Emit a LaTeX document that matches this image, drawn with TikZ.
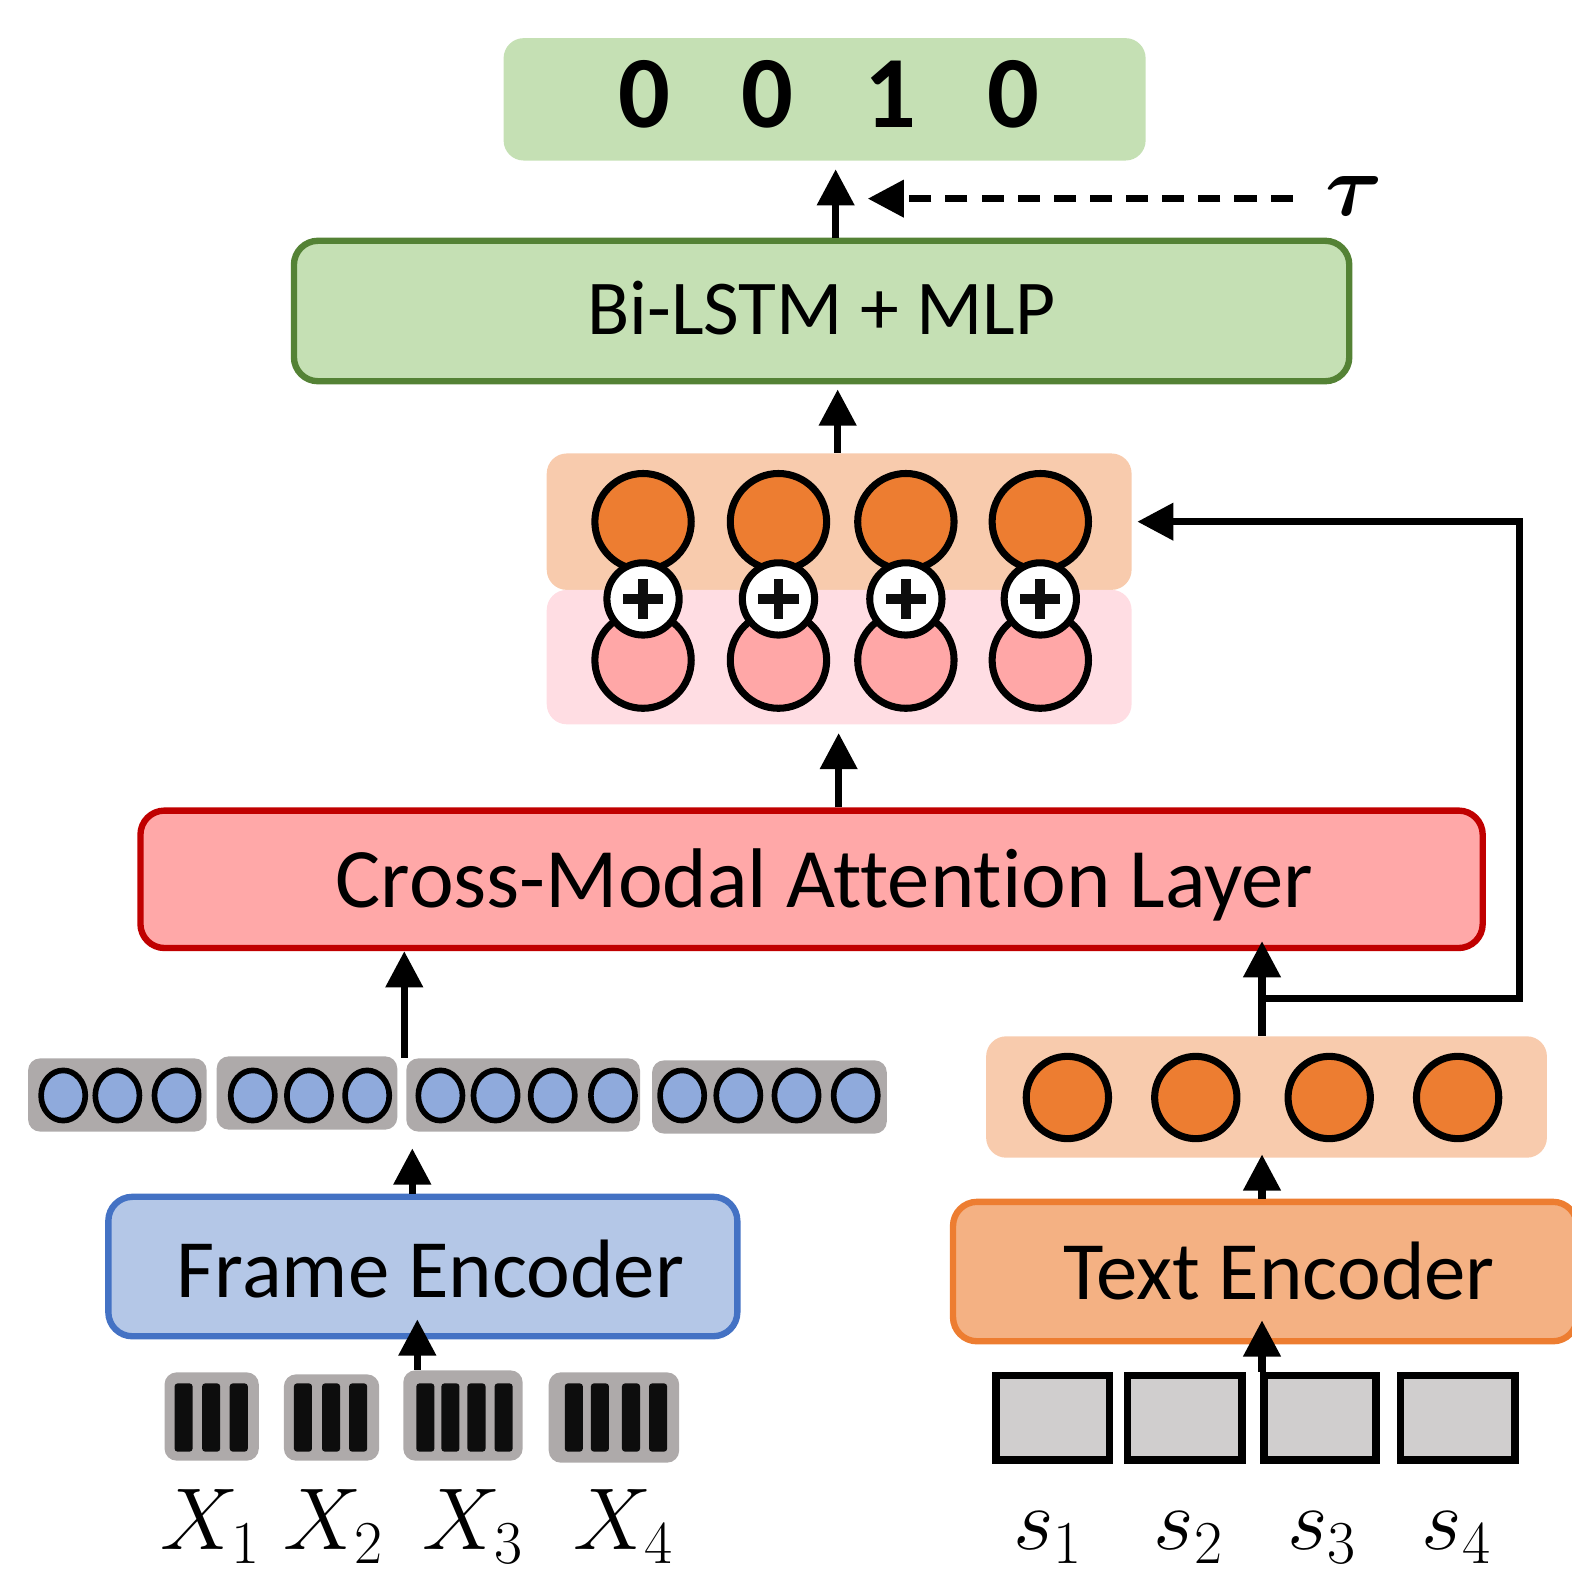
\documentclass[tikz,border=0pt]{standalone}
\usepackage{amsmath}
\usepackage{fontspec}
\setmainfont{Carlito}[Ligatures=NoCommon]
\usetikzlibrary{arrows.meta,fit,shapes.geometric,calc}

\definecolor{cgreen}{HTML}{C5E0B4}
\definecolor{cgreenD}{HTML}{548235}
\definecolor{cred}{HTML}{FFA8A8}
\definecolor{credD}{HTML}{C00000}
\definecolor{cblue}{HTML}{B4C7E7}
\definecolor{cblueD}{HTML}{4472C4}
\definecolor{corL}{HTML}{F8CBAD}
\definecolor{corM}{HTML}{F4B183}
\definecolor{cor}{HTML}{ED7D31}
\definecolor{cpinkL}{HTML}{FFDDE3}
\definecolor{cpink}{HTML}{FFA7A7}
\definecolor{cfeat}{HTML}{8FAADC}
\definecolor{cgrayA}{HTML}{AEAAAA}
\definecolor{cgrayB}{HTML}{D0CECE}
\definecolor{cbar}{HTML}{0D0D0D}

\begin{document}
\begin{tikzpicture}[x=0.01cm,y=-0.01cm,
  panel/.style={draw=none,inner sep=0pt,rounded corners=0.2cm},
  mainbox/.style={inner sep=0pt,rounded corners=0.24cm,line width=1.8pt},
  lbl/.style={anchor=base,inner sep=0pt,font=\fontsize{23.5}{28}\selectfont},
  arr/.style={line width=2pt,-{Triangle[width=0.36cm,length=0.36cm]}},
  dasharr/.style={arr,dash pattern=on 0.22cm off 0.14cm},
  unit/.style={circle,draw,line width=2pt,inner sep=0pt,minimum size=0.96cm},
  plusunit/.style={circle,draw,fill=white,line width=2pt,inner sep=0pt,minimum size=0.72cm,
    path picture={\draw[line width=2.8pt,cbar]
      ([xshift=-0.2cm]path picture bounding box.center) -- ([xshift=0.2cm]path picture bounding box.center)
      ([yshift=-0.2cm]path picture bounding box.center) -- ([yshift=0.2cm]path picture bounding box.center);}},
  feat/.style={ellipse,draw,fill=cfeat,line width=1.6pt,inner sep=0pt,minimum width=0.44cm,minimum height=0.5cm},
  tok/.style={circle,draw,fill=cor,line width=2pt,inner sep=0pt,minimum size=0.82cm},
  frame/.style={panel,fill=cgrayA,rounded corners=0.12cm},
  bar/.style={fill=cbar,rounded corners=0.03cm},
  word/.style={draw,fill=cgrayB,line width=2.2pt,inner sep=0pt},
  mathlbl/.style={anchor=base,inner sep=0pt}
]
\useasboundingbox (0,0) rectangle (1567,1568);

% x positions of the vertical connectors
\coordinate (xo) at (833,0);
\coordinate (xb) at (835,0);
\coordinate (xc) at (836,0);
\coordinate (xf) at (403,0);
\coordinate (xe) at (411,0);
\coordinate (xi) at (416,0);
\coordinate (xt) at (1258,0);
\coordinate (xr) at (1515,0);
\coordinate (yt) at (0,198);

% ---- output labels
\node[panel,fill=cgreen,fit={(502,38)(1142,160)}] (out) {};
\node[anchor=base,inner sep=0pt,font=\fontsize{29}{34}\selectfont\bfseries] (digits) at (826,127)
  {0\hspace{0.71cm}0\hspace{0.71cm}1\hspace{0.71cm}0};

% ---- Bi-LSTM + MLP
\node[mainbox,fill=cgreen,draw=cgreenD,fit={(293,240)(1345,380)}] (bilstm) {};
\node[lbl,font=\fontsize{22}{26}\selectfont] (bilstmtxt) at (819,333) {Bi-LSTM + MLP};

% ---- threshold
\node[mathlbl] (tau) at (1350,215) {\fontsize{27}{30}\selectfont$\boldsymbol{\tau}$};

% ---- fused representation
\node[panel,fill=corL,fit={(545,452)(1128,588)}] (obg) {};
\node[panel,fill=cpinkL,fit={(545,588)(1128,722)}] (pbg) {};
\foreach \i/\x in {1/641,2/776,3/903,4/1037}{
  \node[unit,fill=cor] (o\i) at (\x,520) {};
  \node[unit,fill=cpink] (p\i) at (\x,658) {};
}
\foreach \i/\x in {1/641,2/776,3/903,4/1037}{
  \node[plusunit] (s\i) at (\x,597) {};
}

% ---- Cross-Modal Attention Layer
\node[mainbox,fill=cred,draw=credD,fit={(140,808)(1478,945)}] (cross) {};
\node[lbl,font=\fontsize{24}{28}\selectfont] (crosstxt) at (822,905) {Cross-Modal Attention Layer};

% ---- frame features
\node[frame,fit={(28,1055)(206,1128)}] (g1) {};
\node[frame,fit={(216,1053)(396,1126)}] (g2) {};
\node[frame,fit={(405,1055)(638,1128)}] (g3) {};
\node[frame,fit={(650,1057)(884,1130)}] (g4) {};
\foreach \x [count=\i] in {63,117,176,252,308,366,439,494,551,611,680,736,794,853}{
  \node[feat] (f\i) at (\x,1092) {};
}

% ---- Frame Encoder
\node[mainbox,fill=cblue,draw=cblueD,fit={(108,1193)(735,1332)}] (fenc) {};
\node[lbl] (fenctxt) at (429,1293) {Frame Encoder};

% ---- video frames
\node[frame,fit={(164,1368)(258,1456)}] (v1) {};
\node[frame,fit={(283,1370)(378,1456)}] (v2) {};
\node[frame,fit={(402,1366)(521,1456)}] (v3) {};
\node[frame,fit={(547,1368)(677,1458)}] (v4) {};
\foreach \x in {183,210.5,238,302,330,357,424,449,475,502,572,598,629,656}{
  \path[bar] (\x-9,1379) rectangle (\x+9,1447);
}
\node[mathlbl] (lx1) at (210,1545) {\fontsize{23}{26}\selectfont$X_1$};
\node[mathlbl] (lx2) at (333,1545) {\fontsize{23}{26}\selectfont$X_2$};
\node[mathlbl] (lx3) at (472,1545) {\fontsize{23}{26}\selectfont$X_3$};
\node[mathlbl] (lx4) at (622,1545) {\fontsize{23}{26}\selectfont$X_4$};

% ---- sentence tokens
\node[panel,fill=corL,fit={(983,1033)(1542,1154)}] (tbg) {};
\foreach \i/\x in {1/1064,2/1192,3/1325,4/1453}{
  \node[tok] (t\i) at (\x,1094) {};
}

% ---- Text Encoder
\node[mainbox,fill=corM,draw=cor,fit={(950,1198)(1572,1337)}] (tenc) {};
\node[lbl] (tenctxt) at (1275,1295) {Text Encoder};

% ---- words
\node[word,fit={(993,1371)(1106,1455)}] (w1) {};
\node[word,fit={(1124,1371)(1238,1455)}] (w2) {};
\node[word,fit={(1260,1371)(1372,1455)}] (w3) {};
\node[word,fit={(1396,1371)(1510,1455)}] (w4) {};
\node[mathlbl] (ls1) at (1045,1545) {\fontsize{26}{30}\selectfont$s_1$};
\node[mathlbl] (ls2) at (1185,1545) {\fontsize{26}{30}\selectfont$s_2$};
\node[mathlbl] (ls3) at (1318,1545) {\fontsize{26}{30}\selectfont$s_3$};
\node[mathlbl] (ls4) at (1452,1545) {\fontsize{26}{30}\selectfont$s_4$};

% ---- connectors
\draw[arr,shorten >=0.08cm] (bilstm.north -| xo) -- (out.south -| xo);
\draw[dasharr,shorten <=0.32cm,shorten >=0.32cm] (tau.west |- yt) -- (xo |- yt);
\draw[arr,shorten >=0.05cm] (obg.north -| xb) -- (bilstm.south -| xb);
\draw[arr,shorten >=0.08cm] (cross.north -| xc) -- (pbg.south -| xc);
\draw[arr] (g3.north -| xf) -- (cross.south -| xf);
\draw[arr,shorten >=0.16cm] (fenc.north -| xe) -- (g3.south -| xe);
\draw[arr,shorten >=-0.2cm] (v3.north -| xi) -- (fenc.south -| xi);
\draw[arr,shorten >=-0.24cm] (w3.north -| xt) -- (tenc.south -| xt);
\draw[arr,shorten >=-0.04cm] (tenc.north -| xt) -- (tbg.south -| xt);
\draw[arr,shorten >=-0.1cm] (tbg.north -| xt) -- (cross.south -| xt);
\coordinate (br) at (1258,995);
\draw[arr,line join=miter,shorten >=0.05cm] (br) -| (obg.east -| xr) -- (obg.east);
\end{tikzpicture}
\end{document}
